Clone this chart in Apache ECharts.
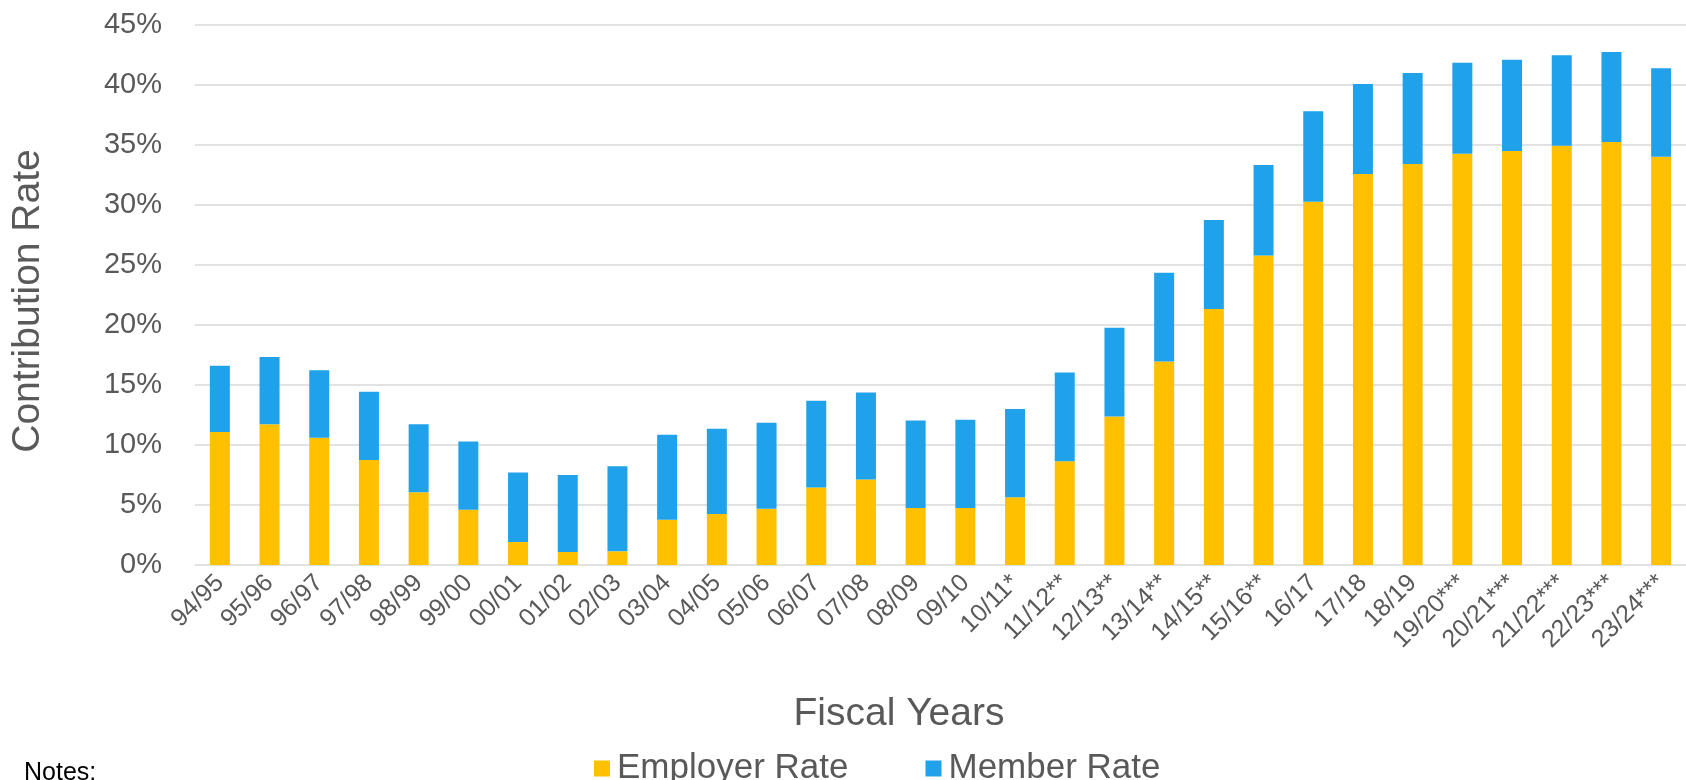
<!DOCTYPE html>
<html>
<head>
<meta charset="utf-8">
<script src="https://cdn.jsdelivr.net/npm/echarts@6/dist/echarts.min.js"></script>
<style>
html,body{margin:0;padding:0;background:#fff;}
#chart{width:1686px;height:780px;}
</style>
</head>
<body>
<div id="chart"></div>
<script>
const categories = ['94/95','95/96','96/97','97/98','98/99','99/00','00/01','01/02','02/03','03/04','04/05','05/06','06/07','07/08','08/09','09/10','10/11*','11/12**','12/13**','13/14**','14/15**','15/16**','16/17','17/18','18/19','19/20***','20/21***','21/22***','22/23***','23/24***'];
const employerRate = [11.08,11.72,10.61,8.75,6.07,4.60,1.91,1.08,1.14,3.77,4.24,4.68,6.45,7.12,4.74,4.76,5.65,8.64,12.38,16.95,21.33,25.80,30.28,32.58,33.41,34.27,34.49,34.93,35.24,34.02];
const memberRate = [5.52,5.62,5.62,5.68,5.65,5.70,5.79,6.42,7.09,7.09,7.12,7.18,7.23,7.26,7.31,7.34,7.35,7.40,7.40,7.41,7.43,7.53,7.53,7.50,7.58,7.58,7.61,7.55,7.52,7.38];
const yTicks = {min: 0, max: 45, interval: 5};

const FONT = 'Liberation Sans, Arial, sans-serif';
const TXT = '#595959';
const chart = echarts.init(document.getElementById('chart'), null, {renderer: 'canvas'});
chart.setOption({
  animation: false,
  backgroundColor: '#fff',
  textStyle: {fontFamily: FONT},
  grid: {left: 195, top: 25, width: 1502, height: 540, containLabel: false},
  legend: {
    left: 589, top: 746,
    itemWidth: 16, itemHeight: 16, itemGap: 77,
    icon: 'rect',
    textStyle: {fontFamily: FONT, fontSize: 35, color: TXT, padding: [0, 0, 0, 2]},
    data: ['Employer Rate', 'Member Rate']
  },
  xAxis: {
    type: 'category',
    data: categories,
    name: 'Fiscal Years',
    nameLocation: 'middle',
    nameGap: 130,
    nameTextStyle: {fontFamily: FONT, fontSize: 39, color: TXT, padding: [0, 83, 0, 0]},
    axisLine: {show: false},
    axisTick: {show: false},
    axisLabel: {interval: 0, rotate: 45, margin: 14, fontFamily: FONT, fontSize: 25, color: TXT}
  },
  yAxis: {
    type: 'value',
    min: yTicks.min, max: yTicks.max, interval: yTicks.interval,
    name: 'Contribution Rate',
    nameLocation: 'middle',
    nameGap: 147,
    nameTextStyle: {fontFamily: FONT, fontSize: 39, color: TXT, padding: [0, 12, 0, 0]},
    axisLabel: {formatter: '{value}%', margin: 33, fontFamily: FONT, fontSize: 29, color: TXT, padding: [4, 0, 0, 0]},
    splitLine: {lineStyle: {color: '#d9d9d9', width: 1.5}}
  },
  series: [
    {name: 'Employer Rate', type: 'bar', stack: 'total', data: employerRate, barWidth: 20,
     itemStyle: {color: '#FFC000'}},
    {name: 'Member Rate', type: 'bar', stack: 'total', data: memberRate, barWidth: 20,
     itemStyle: {color: '#20A2EA'}}
  ],
  graphic: [
    {type: 'text', left: 24, top: 761, style: {text: 'Notes:', fontFamily: FONT, fontSize: 25, fill: '#000'}}
  ]
});
</script>
</body>
</html>
